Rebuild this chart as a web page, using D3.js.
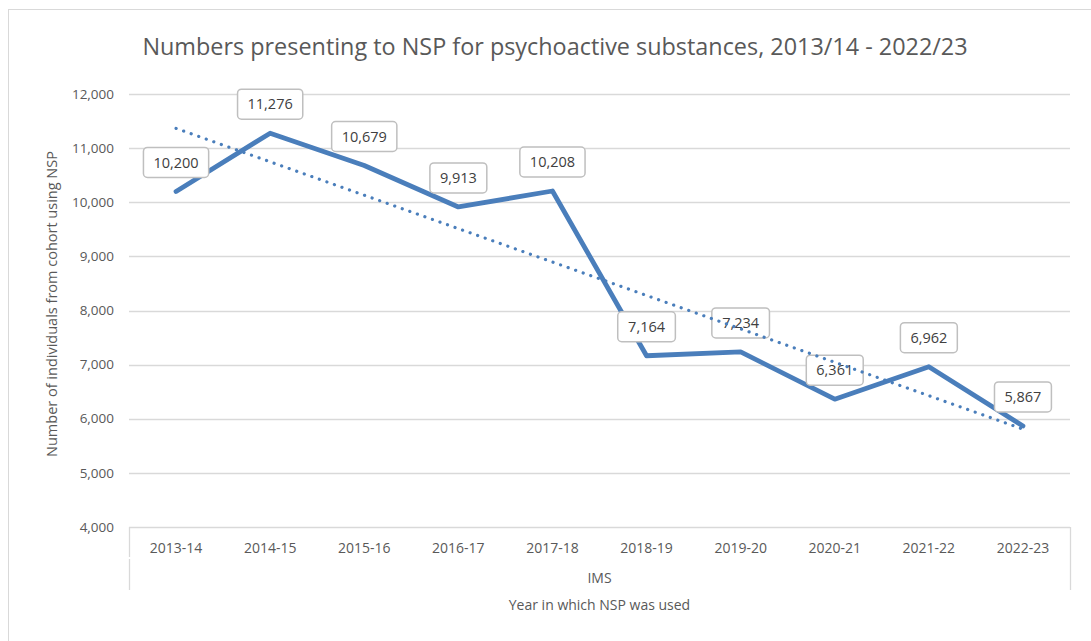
<!DOCTYPE html>
<html>
<head>
<meta charset="utf-8">
<script src="https://cdn.jsdelivr.net/npm/d3@7"></script>
<style>
  body { margin: 0; background: #fff; }
  text { font-family: "Open Sans", "Noto Sans", sans-serif; }
</style>
</head>
<body>
<div id="container"><svg></svg></div>
<script>
let width = 1091;
let height = 641;

// data
let years = ["2013-14", "2014-15", "2015-16", "2016-17", "2017-18",
             "2018-19", "2019-20", "2020-21", "2021-22", "2022-23"];
let values = [10200, 11276, 10679, 9913, 10208, 7164, 7234, 6361, 6962, 5867];
let yTicks = [4000, 5000, 6000, 7000, 8000, 9000, 10000, 11000, 12000];

let title = "Numbers presenting to NSP for psychoactive substances, 2013/14 - 2022/23";
let yTitle = "Number of individuals from cohort using NSP";
let groupLabel = "IMS";
let xTitle = "Year in which NSP was used";

let blue = "#4a7ebb";
let fmt = d3.format(",");

let svg = d3.select('#container').select('svg')
    .attr('width', width)
    .attr('height', height);

// chart area border (runs off the page on right and bottom)
svg.append("rect")
    .attr("x", 8.5).attr("y", 9.5)
    .attr("width", 1200).attr("height", 800)
    .attr("fill", "#fff")
    .attr("stroke", "#d9d9d9");

let x = d3.scaleBand().domain(years).range([129, 1070]);
let y = d3.scaleLinear().domain([4000, 12000]).range([527, 94]);

// gridlines
svg.append("g")
    .selectAll("line")
    .data(yTicks.slice(1))
    .join("line")
    .attr("x1", 129).attr("x2", 1070)
    .attr("y1", d => Math.round(y(d)) + 0.5)
    .attr("y2", d => Math.round(y(d)) + 0.5)
    .attr("stroke", "#d9d9d9")
    .attr("stroke-width", 1.3);

// y tick labels
svg.append("g")
    .selectAll("text")
    .data(yTicks)
    .join("text")
    .attr("x", 114)
    .attr("y", d => y(d))
    .attr("dy", "0.35em")
    .attr("text-anchor", "end")
    .attr("font-size", 13.5)
    .attr("fill", "#595959")
    .text(d => fmt(d));

// x axis box (multi-level category axis)
let axisG = svg.append("g").attr("stroke", "#d9d9d9").attr("stroke-width", 1.3);
axisG.append("line").attr("x1", 129).attr("x2", 1070).attr("y1", 527.5).attr("y2", 527.5);
axisG.append("line").attr("x1", 129.5).attr("x2", 129.5).attr("y1", 527).attr("y2", 557);
axisG.append("line").attr("x1", 129.5).attr("x2", 129.5).attr("y1", 559).attr("y2", 590);
axisG.append("line").attr("x1", 1070.5).attr("x2", 1070.5).attr("y1", 527).attr("y2", 590);

svg.append("g")
    .selectAll("text")
    .data(years)
    .join("text")
    .attr("x", d => x(d) + x.bandwidth() / 2)
    .attr("y", 548)
    .attr("dy", "0.35em")
    .attr("text-anchor", "middle")
    .attr("font-size", 14)
    .attr("fill", "#595959")
    .text(d => d);

svg.append("text")
    .attr("x", (129 + 1070) / 2).attr("y", 578).attr("dy", "0.35em")
    .attr("text-anchor", "middle")
    .attr("font-size", 14)
    .attr("fill", "#595959")
    .text(groupLabel);

svg.append("text")
    .attr("x", (129 + 1070) / 2).attr("y", 605).attr("dy", "0.35em")
    .attr("text-anchor", "middle")
    .attr("font-size", 14)
    .attr("fill", "#595959")
    .text(xTitle);

// y axis title
svg.append("text")
    .attr("transform", "translate(52,304) rotate(-90)")
    .attr("dy", "0.35em")
    .attr("text-anchor", "middle")
    .attr("font-size", 14.5)
    .attr("fill", "#595959")
    .text(yTitle);

// title
svg.append("text")
    .attr("x", 555).attr("y", 47).attr("dy", "0.35em")
    .attr("text-anchor", "middle")
    .attr("font-size", 23.4)
    .attr("fill", "#595959")
    .text(title);

let cx = d => x(d) + x.bandwidth() / 2;

// main line
let line = d3.line()
    .x((d, i) => cx(years[i]))
    .y(d => y(d));

svg.append("path")
    .datum(values)
    .attr("d", line)
    .attr("fill", "none")
    .attr("stroke", blue)
    .attr("stroke-width", 4.8)
    .attr("stroke-linejoin", "round")
    .attr("stroke-linecap", "round");

// data labels
let lab = svg.append("g")
    .selectAll("g")
    .data(values)
    .join("g")
    .attr("transform", (d, i) => "translate(" + cx(years[i]) + "," + (y(d) - 29) + ")");

lab.append("text")
    .attr("text-anchor", "middle")
    .attr("dy", "0.35em")
    .attr("font-size", 14.5)
    .attr("fill", "#404040")
    .text(d => fmt(d));

lab.each(function() {
    let g = d3.select(this);
    let bb = g.select("text").node().getBBox();
    let w = bb.width + 20;
    g.insert("rect", "text")
        .attr("x", -w / 2).attr("y", -15)
        .attr("width", w).attr("height", 30)
        .attr("rx", 4)
        .attr("fill", "#fff")
        .attr("stroke", "#bfbfbf")
        .attr("stroke-width", 1.5);
});

// linear trendline (least squares over category index), drawn over the labels
let n = values.length;
let mx = d3.mean(values, (d, i) => i);
let my = d3.mean(values);
let sxy = d3.sum(values, (d, i) => (i - mx) * (d - my));
let sxx = d3.sum(values, (d, i) => (i - mx) * (i - mx));
let slope = sxy / sxx;
let icpt = my - slope * mx;

svg.append("line")
    .attr("x1", cx(years[0])).attr("y1", y(icpt))
    .attr("x2", cx(years[n - 1])).attr("y2", y(icpt + slope * (n - 1)))
    .attr("stroke", blue)
    .attr("stroke-width", 3.2)
    .attr("stroke-linecap", "round")
    .attr("stroke-dasharray", "0.1 7.9");
</script>
</body>
</html>
